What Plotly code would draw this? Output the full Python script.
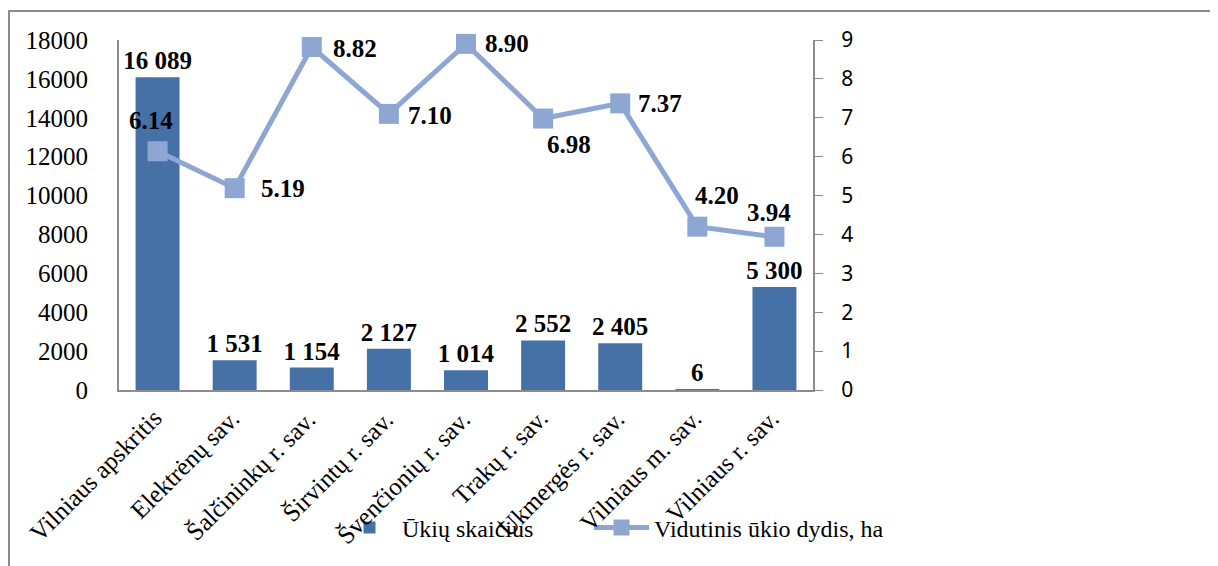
import plotly.graph_objects as go

categories = ["Vilniaus apskritis", "Elektrėnų sav.", "Šalčininkų r. sav.", "Širvintų r. sav.",
              "Švenčionių r. sav.", "Trakų r. sav.", "Ukmergės r. sav.", "Vilniaus m. sav.",
              "Vilniaus r. sav."]
farms = [16089, 1531, 1154, 2127, 1014, 2552, 2405, 6, 5300]
avg_size = [6.14, 5.19, 8.82, 7.10, 8.90, 6.98, 7.37, 4.20, 3.94]
left_ticks = list(range(0, 18001, 2000))
right_ticks = list(range(0, 10))

bar_color = "#4671A7"
line_color = "#8EA7D2"
SERIF = "Liberation Serif, Times New Roman, serif"

def fmt_thousands(v):
    return f"{v:,}".replace(",", " ")

# label offsets (pixels) of the line-value labels relative to their markers
line_label_shift = [(-7, 31), (48, 0), (43, -1), (41, -2), (41, 0),
                    (26, -26), (40, 0), (20, 31), (-5, 24)]

# page body has an 8px default margin: compensate so the plot area sits at
# x 119..813, y 40..390 of the window
OFF = 8
PL, PR, PT, PB = 119, 813, 40, 390
W, H = 1218, 566

def px_x(p):
    return (p - PL) / (PR - PL)

def px_y(p):
    return (PB - p) / (PB - PT)

fig = go.Figure()
fig.add_trace(go.Bar(
    x=categories, y=farms, name="Ūkių skaičius", legend="legend",
    marker=dict(color=bar_color, line=dict(width=0)),
    text=[fmt_thousands(v) for v in farms], textposition="outside",
    textfont=dict(family=SERIF, size=25, color="black"),
    texttemplate="<b>%{text}</b>", cliponaxis=False, constraintext="none",
))
fig.add_trace(go.Scatter(
    x=categories, y=avg_size, name="Vidutinis ūkio dydis, ha", yaxis="y2", legend="legend2",
    mode="lines+markers",
    line=dict(color=line_color, width=5),
    marker=dict(symbol="square", size=20, color=line_color),
    cliponaxis=False,
))

legend_common = dict(orientation="h", xanchor="left", yanchor="middle",
                     y=px_y(528), itemwidth=55,
                     font=dict(family=SERIF, size=24, color="black"),
                     bgcolor="rgba(0,0,0,0)")

annotations = [dict(x=i, y=0, xref="x", yref="paper", text=c, showarrow=False,
                    textangle=-45, xanchor="right", yanchor="top", xshift=12, yshift=-12,
                    font=dict(family=SERIF, size=25, color="black"))
               for i, c in enumerate(categories)]
annotations += [dict(x=i, y=v, xref="x", yref="y2", text=f"<b>{v:.2f}</b>", showarrow=False,
                     xanchor="center", yanchor="middle", xshift=dx, yshift=dy,
                     font=dict(family=SERIF, size=25, color="black"))
                for i, (v, (dx, dy)) in enumerate(zip(avg_size, line_label_shift))]

fig.update_layout(
    width=W, height=H,
    margin=dict(l=PL - OFF, r=W - (PR - OFF), t=PT - OFF, b=H - (PB - OFF), autoexpand=False),
    paper_bgcolor="white", plot_bgcolor="white",
    bargap=0.43,
    showlegend=True,
    legend=dict(x=px_x(337), **legend_common),
    legend2=dict(x=px_x(589), **legend_common),
    annotations=annotations,
    xaxis=dict(type="category", range=[-0.5, len(categories) - 0.5],
               showline=True, linecolor="#8c8c8c", linewidth=2, showticklabels=False,
               showgrid=False, ticks="", automargin=False),
    yaxis=dict(range=[0, 18000], tickvals=left_ticks, ticktext=[str(t) for t in left_ticks],
               showline=True, linecolor="#8c8c8c",
               linewidth=2, showgrid=False, zeroline=False, ticks="",
               tickfont=dict(family=SERIF, size=25, color="black"),
               ticklabelstandoff=24, automargin=False),
    yaxis2=dict(range=[0, 9], tickvals=right_ticks, overlaying="y", side="right",
                showline=True, linecolor="#8c8c8c", linewidth=2, showgrid=False,
                zeroline=False, ticks="outside", ticklen=8, tickcolor="#8c8c8c",
                tickfont=dict(family="Noto Sans", size=21, color="black"),
                ticklabelstandoff=14, automargin=False),
    shapes=[dict(type="rect", xref="paper", yref="paper", x0=px_x(9), x1=px_x(1300),
                 y0=px_y(620), y1=px_y(11), line=dict(color="#8c8c8c", width=2))],
)

fig.write_html("out.html")
